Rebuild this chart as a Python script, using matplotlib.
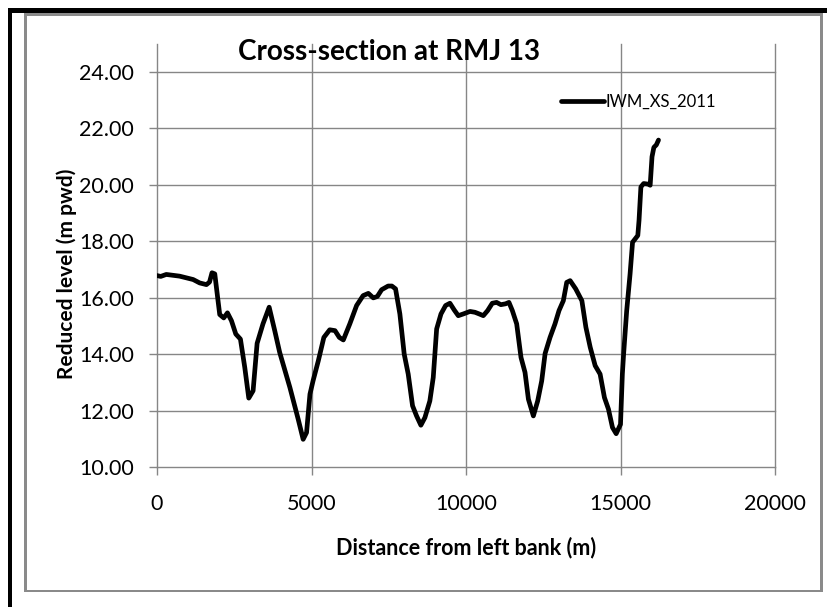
import matplotlib
matplotlib.use("Agg")
import matplotlib.pyplot as plt
from matplotlib.patches import Rectangle

# Surveyed cross-section: distance from left bank (m) vs reduced level (m PWD)
distance_m = [
    0, 120, 300, 730, 1170, 1380, 1600, 1700, 1780, 1870,
    1975, 2030, 2160, 2280, 2410, 2550, 2700, 2840, 2970, 3110,
    3240, 3430, 3630, 3810, 3970, 4300, 4570, 4730, 4840, 4950,
    5050, 5220, 5400, 5590, 5760, 5900, 6030, 6240, 6460, 6670,
    6840, 7000, 7130, 7270, 7480, 7600, 7720, 7860, 8000, 8130,
    8270, 8400, 8540, 8670, 8830, 8940, 9050, 9190, 9340, 9480,
    9620, 9750, 9910, 10130, 10290, 10430, 10560, 10700, 10850, 10990,
    11130, 11280, 11390, 11500, 11640, 11780, 11910, 12020, 12180, 12320,
    12450, 12560, 12720, 12880, 13010, 13150, 13260, 13370, 13550, 13750,
    13880, 14020, 14180, 14340, 14480, 14610, 14740, 14860, 15000, 15060,
    15100, 15200, 15310, 15390, 15560, 15600, 15660, 15750, 15890, 15960,
    16020, 16080, 16160, 16230,
]
reduced_level = [
    16.78, 16.75, 16.82, 16.76, 16.64, 16.52, 16.46, 16.55, 16.88, 16.84,
    15.89, 15.40, 15.28, 15.46, 15.18, 14.71, 14.53, 13.53, 12.44, 12.70,
    14.38, 15.07, 15.66, 14.83, 14.06, 12.82, 11.69, 10.98, 11.22, 12.58,
    13.05, 13.76, 14.59, 14.86, 14.83, 14.59, 14.50, 15.07, 15.72, 16.07,
    16.15, 15.99, 16.04, 16.28, 16.41, 16.41, 16.31, 15.42, 14.00, 13.29,
    12.17, 11.81, 11.48, 11.75, 12.34, 13.17, 14.89, 15.42, 15.72, 15.80,
    15.56, 15.36, 15.42, 15.51, 15.48, 15.42, 15.36, 15.54, 15.80, 15.83,
    15.75, 15.78, 15.83, 15.54, 15.07, 13.88, 13.35, 12.40, 11.81, 12.34,
    13.05, 14.02, 14.59, 15.07, 15.54, 15.89, 16.54, 16.60, 16.31, 15.89,
    14.95, 14.24, 13.59, 13.29, 12.46, 12.05, 11.40, 11.18, 11.51, 13.29,
    13.99, 15.53, 16.84, 17.96, 18.20, 18.74, 19.92, 20.04, 20.02, 19.98,
    20.99, 21.32, 21.41, 21.58,
]

x_ticks = [0, 5000, 10000, 15000, 20000]
y_ticks = [10, 12, 14, 16, 18, 20, 22, 24]
x_limits = (0, 20000)
y_limits = (10, 25)

series_name = "IWM_XS_2011"
title_text = "Cross-section at RMJ 13"
x_label = "Distance from left bank (m)"
y_label = "Reduced level (m pwd)"

plt.rcParams['font.family'] = ['Lato', 'DejaVu Sans']

W, H = 828, 607
fig = plt.figure(figsize=(W / 100, H / 100), dpi=100)
fig.patch.set_facecolor('white')


def fx(px):
    return px / W


def fy(py):
    return 1 - py / H


def box(x0, y0, x1, y1, color):
    fig.add_artist(Rectangle((fx(x0), fy(y1)), fx(x1) - fx(x0), fy(y0) - fy(y1),
                             transform=fig.transFigure, facecolor=color,
                             edgecolor='none', zorder=5))


# outer black frame (top and left edges)
box(8, 8, W, 12.5, 'black')
box(8, 8, 12.5, H, 'black')
# grey chart-area border
grey = '#8a8a8a'
box(24, 13, 823, 15.5, grey)
box(24, 13, 26.5, 592, grey)
box(820.5, 13, 823, 592, grey)
box(24, 589.5, 823, 592, grey)

ax = fig.add_axes([fx(157), fy(467), fx(775) - fx(157), fy(43.5) - fy(467)])
ax.plot(distance_m, reduced_level, color='black', lw=3.4,
        solid_joinstyle='round', solid_capstyle='round',
        label=series_name, zorder=3)

ax.set_xlim(*x_limits)
ax.set_ylim(*y_limits)
ax.set_xticks(x_ticks)
ax.set_xticklabels([str(v) for v in x_ticks])
ax.set_yticks(y_ticks)
ax.set_yticklabels([f"{v:.2f}" for v in y_ticks])

grid_color = '#868686'
ax.grid(True, color=grid_color, lw=1.0)
ax.set_axisbelow(True)
for gl in ax.get_xgridlines() + ax.get_ygridlines():
    gl.set_clip_on(False)
for s in ax.spines.values():
    s.set_visible(False)

ax.tick_params(axis='both', length=5.5, width=1.0, color=grid_color,
               labelsize=15.5, labelcolor='black')
ax.tick_params(axis='y', pad=11)
ax.tick_params(axis='x', pad=14)

fig.text(fx(389), fy(60), title_text, ha='center', va='baseline',
         fontsize=20, fontweight='bold')
fig.text(fx(466), fy(548), x_label, ha='center', va='center',
         fontsize=15.5, fontweight='bold')
fig.text(fx(67), fy(274), y_label, ha='center', va='center', rotation=90,
         fontsize=15, fontweight='bold')

ax.legend(loc='center left', bbox_to_anchor=(fx(561), fy(101.5)),
          bbox_transform=fig.transFigure, frameon=False, fontsize=12,
          handlelength=2.6, handletextpad=0.05, borderpad=0,
          borderaxespad=0)

fig.savefig('out.png', dpi=100, facecolor='white')
